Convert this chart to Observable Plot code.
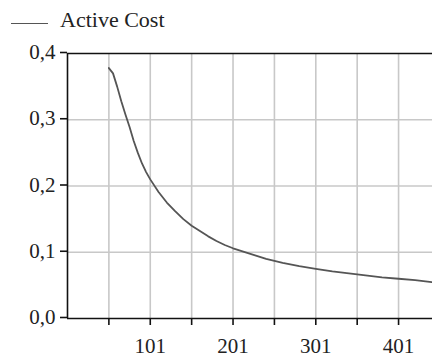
<!DOCTYPE html>
<html>
<head>
<meta charset="utf-8">
<script src="https://cdn.jsdelivr.net/npm/d3@7"></script>
<script src="https://cdn.jsdelivr.net/npm/@observablehq/plot@0.6"></script>
<style>
  html, body { margin: 0; padding: 0; background: #fff; }
  svg { display: block; }
</style>
</head>
<body>
<div id="legend" style="position:relative;height:40px;font-family:'Liberation Serif';font-size:22px;color:#222">
  <span style="position:absolute;left:11px;top:23px;width:37px;height:0;border-top:1.5px solid #555"></span>
  <span id="legendLabel" style="position:absolute;left:60px;top:9px;line-height:1;font-family:'Liberation Serif'"></span>
</div>
<div id="chart"></div>
<script>
const seriesName = "Active Cost";
const steps = [51, 56, 61, 66, 71, 76, 81, 86, 91, 96, 101, 111, 121, 131, 141, 151, 161, 171, 181, 191, 201, 221, 241, 261, 281, 301, 321, 341, 361, 381, 401, 421, 441];
const activeCost = [0.378, 0.370, 0.350, 0.328, 0.308, 0.289, 0.268, 0.250, 0.234, 0.221, 0.210, 0.191, 0.175, 0.162, 0.150, 0.140, 0.132, 0.124, 0.117, 0.111, 0.106, 0.098, 0.090, 0.084, 0.079, 0.075, 0.071, 0.068, 0.065, 0.062, 0.060, 0.058, 0.055];
const xTicks = [51, 101, 151, 201, 251, 301, 351, 401];
const yTicks = [0, 0.1, 0.2, 0.3, 0.4];

document.getElementById("legendLabel").textContent = seriesName;

const data = steps.map((s, i) => ({step: s, value: activeCost[i]}));
const fmtY = d => d.toFixed(1).replace(".", ",");
const fmtX = d => ((d - 1) % 100 === 0 ? String(d) : "");
const serif = "Liberation Serif";

const chart = Plot.plot({
  width: 432,
  height: 318,
  marginTop: 13,
  marginBottom: 40,
  marginLeft: 67,
  marginRight: 0,
  style: {fontFamily: serif, fontSize: "21px", color: "#222", background: "#fff"},
  x: {domain: [1, 442]},
  y: {domain: [0, 0.4]},
  marks: [
    Plot.gridX(xTicks, {stroke: "#c8c8c8", strokeOpacity: 1, strokeWidth: 1.6}),
    Plot.gridY([0.1, 0.2, 0.3], {stroke: "#c8c8c8", strokeOpacity: 1, strokeWidth: 1.6}),
    Plot.line(data, {x: "step", y: "value", stroke: "#555", strokeWidth: 1.8}),
    Plot.ruleY([0, 0.4], {stroke: "#111", strokeWidth: 1.6}),
    Plot.ruleX([1], {stroke: "#111", strokeWidth: 1.6}),
    Plot.axisX(xTicks, {tickFormat: fmtX, tickSize: 7, tickPadding: 13, stroke: "#111", strokeWidth: 1.6, fill: "#222", fontSize: 21, fontFamily: serif, label: null}),
    Plot.axisY(yTicks, {tickFormat: fmtY, tickSize: 7, tickPadding: 5, dy: -1, stroke: "#111", strokeWidth: 1.6, fill: "#222", fontSize: 21, fontFamily: serif, label: null})
  ]
});
document.getElementById("chart").appendChild(chart);
</script>
</body>
</html>
